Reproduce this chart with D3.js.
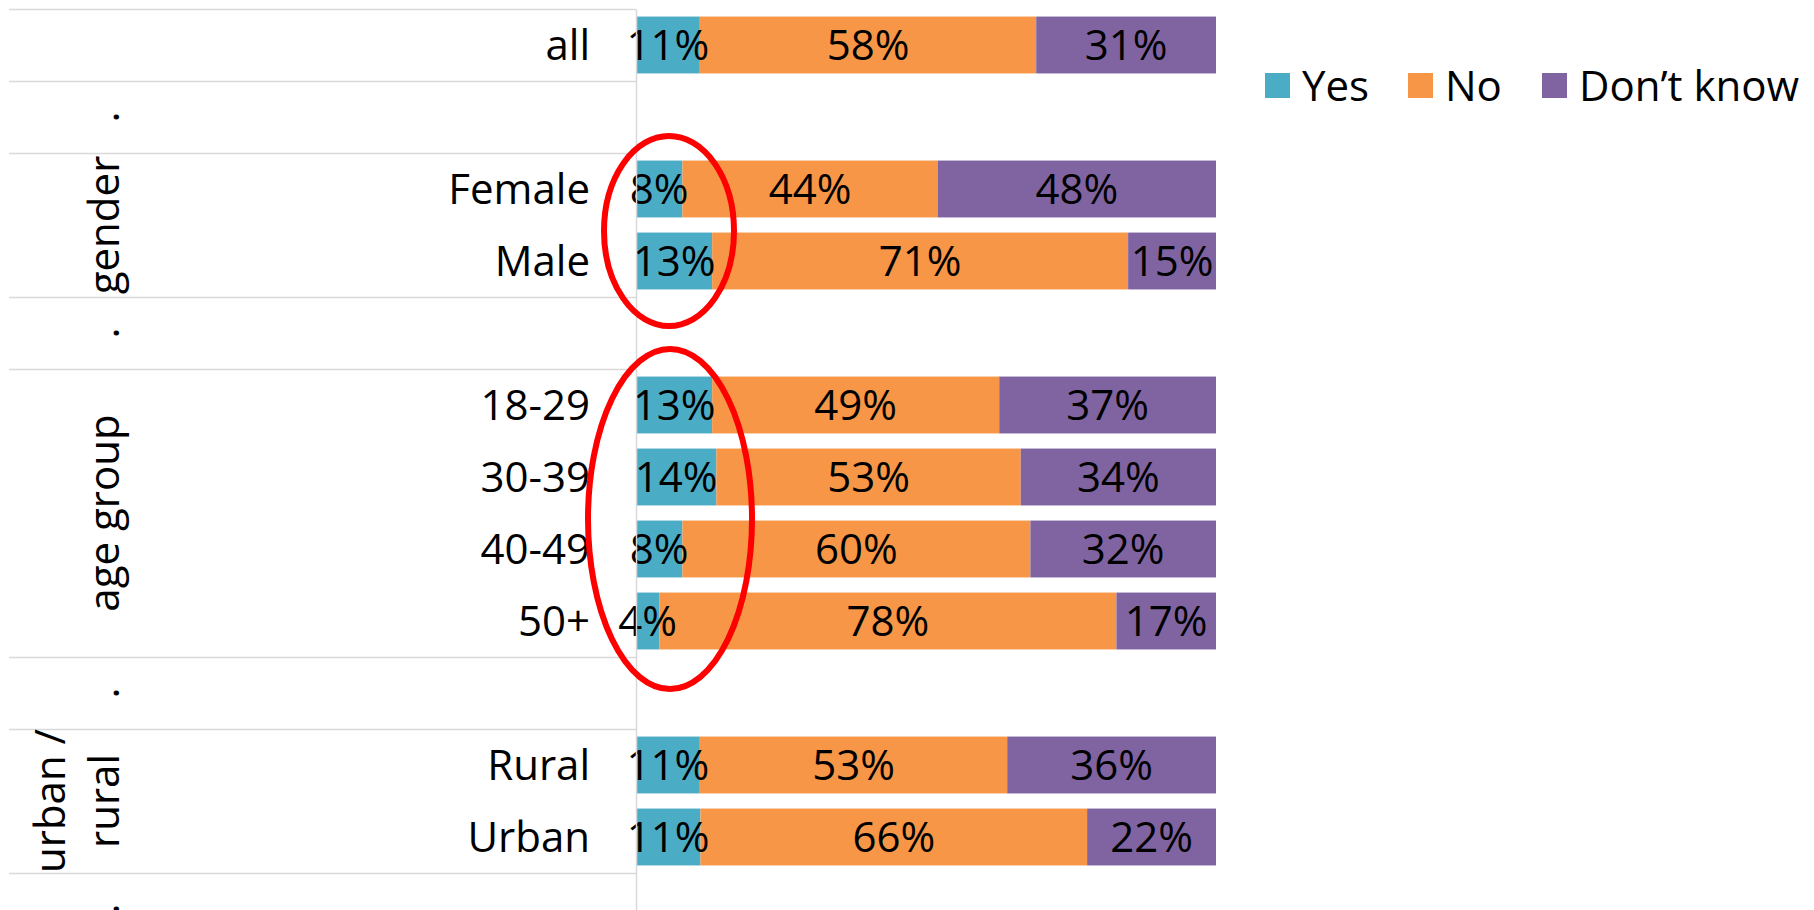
<!DOCTYPE html>
<html>
<head>
<meta charset="utf-8">
<script src="https://cdn.jsdelivr.net/npm/d3@7"></script>
<style>
  html, body { margin: 0; padding: 0; background: #fff; }
  svg { display: block; font-family: "Open Sans", "Noto Sans", sans-serif; }
</style>
</head>
<body>
<svg id="chart" width="1814" height="910"></svg>
<script>
// ---- data ----
const categories = ["all", "", "Female", "Male", "", "18-29", "30-39", "40-49", "50+", "", "Rural", "Urban", ""];
const groupLabels = ["", ".", "gender", ".", "age group", ".", "urban /\nrural", "."];
const groupSizes = [1, 1, 2, 1, 4, 1, 2, 1];
const seriesNames = ["Yes", "No", "Don\u2019t know"];
const yesValues      = [11, null, 8, 13, null, 13, 14, 8, 4, null, 11, 11, null];
const noValues       = [58, null, 44, 71, null, 49, 53, 60, 78, null, 53, 66, null];
const dontKnowValues = [31, null, 48, 15, null, 37, 34, 32, 17, null, 36, 22, null];
const seriesColors = ["#4bacc6", "#f79646", "#8064a2"];

// ---- layout ----
const svg = d3.select("#chart");
const plotLeft = 636, plotRight = 1216, plotTop = 9, rowStep = 72;
const fontSize = 42;

const rows = categories.map((c, i) => ({
  idx: i, label: c,
  Yes: yesValues[i], No: noValues[i], DK: dontKnowValues[i]
}));
const dataRows = rows.filter(r => r.Yes != null);

const y = d3.scaleBand()
  .domain(rows.map(r => r.idx))
  .range([plotTop, plotTop + rowStep * rows.length])
  .paddingInner(0.21)
  .paddingOuter(0.105);

const x = d3.scaleLinear().domain([0, 1]).range([plotLeft, plotRight]);
const color = d3.scaleOrdinal().domain(["Yes", "No", "DK"]).range(seriesColors);

const stack = d3.stack().keys(["Yes", "No", "DK"]).offset(d3.stackOffsetExpand);
const stacked = stack(dataRows);

// group separators
let acc = 0;
const groupBounds = groupSizes.map((s, g) => {
  const start = acc; acc += s;
  return { g, start, end: acc };
});
const halfGap = y.step() * y.paddingInner() / 2;
const sepYs = [y(0) - halfGap];
groupBounds.forEach(b => {
  sepYs.push(y(b.end - 1) + y.bandwidth() + halfGap);
});
svg.append("g").selectAll("line").data(sepYs).join("line")
  .attr("x1", 9).attr("x2", plotLeft)
  .attr("y1", d => Math.round(d) + 0.5).attr("y2", d => Math.round(d) + 0.5)
  .attr("stroke", "#d9d9d9").attr("stroke-width", 1.5);

// bars
const barG = svg.append("g");
stacked.forEach(layer => {
  barG.append("g").attr("fill", color(layer.key))
    .selectAll("rect").data(layer).join("rect")
    .attr("x", d => x(d[0]))
    .attr("width", d => x(d[1]) - x(d[0]))
    .attr("y", d => y(d.data.idx))
    .attr("height", y.bandwidth());
});

// value labels
const labG = svg.append("g")
  .attr("font-size", fontSize).attr("text-anchor", "middle").attr("fill", "#000");
stacked.forEach(layer => {
  labG.append("g").selectAll("text").data(layer).join("text")
    .attr("x", d => x((d[0] + d[1]) / 2))
    .attr("y", d => y(d.data.idx) + y.bandwidth() / 2)
    .attr("dy", "0.36em")
    .text(d => d.data[layer.key] + "%");
});

// category axis
const axis = d3.axisLeft(y)
  .tickSize(0).tickSizeOuter(0).tickPadding(plotLeft - 590)
  .tickFormat(i => categories[i]);
const axG = svg.append("g").attr("transform", `translate(${plotLeft},0)`).call(axis);
axG.select(".domain").attr("stroke", "#d9d9d9").attr("stroke-width", 1.5);
axG.selectAll("text").attr("font-size", fontSize).attr("fill", "#000")
  .attr("font-family", "'Open Sans', 'Noto Sans', sans-serif").attr("dy", "0.36em");

// group labels (rotated)
const grpG = svg.append("g").attr("font-size", fontSize).attr("fill", "#000").attr("text-anchor", "middle");
groupBounds.forEach(b => {
  const label = groupLabels[b.g];
  if (!label) return;
  const y0 = y(b.start) - halfGap;
  const y1 = y(b.end - 1) + y.bandwidth() + halfGap;
  const cy = (y0 + y1) / 2;
  const lines = label.split("\n");
  const lineH = 54;
  const baseX = 119;
  lines.forEach((ln, k) => {
    const bx = baseX - (lines.length - 1 - k) * lineH;
    grpG.append("text")
      .attr("transform", `translate(${bx},${cy}) rotate(-90)`)
      .text(ln);
  });
});

// annotation ellipses
const annotations = [
  { from: 2, to: 3, dy: 6, rx: 65, extra: 59, cxOff: 33 },
  { from: 5, to: 8, dy: 6, rx: 82, extra: 62, cxOff: 34 }
];
svg.append("g").selectAll("ellipse").data(annotations).join("ellipse")
  .attr("cx", d => x(0) + d.cxOff)
  .attr("cy", d => (y(d.from) + y(d.to) + y.bandwidth()) / 2 + d.dy)
  .attr("rx", d => d.rx)
  .attr("ry", d => (y(d.to) - y(d.from)) / 2 + d.extra)
  .attr("fill", "none").attr("stroke", "#ff0000").attr("stroke-width", 6);

// legend
const legendX = [1265, 1408, 1542];
const legG = svg.append("g").attr("font-size", fontSize).attr("fill", "#000");
seriesNames.forEach((name, i) => {
  const g = legG.append("g").attr("transform", `translate(${legendX[i]},86)`);
  g.append("rect").attr("x", 0).attr("y", -13).attr("width", 25).attr("height", 25)
    .attr("fill", seriesColors[i]);
  g.append("text").attr("x", 37).attr("dy", "0.36em").text(name);
});
</script>
</body>
</html>
